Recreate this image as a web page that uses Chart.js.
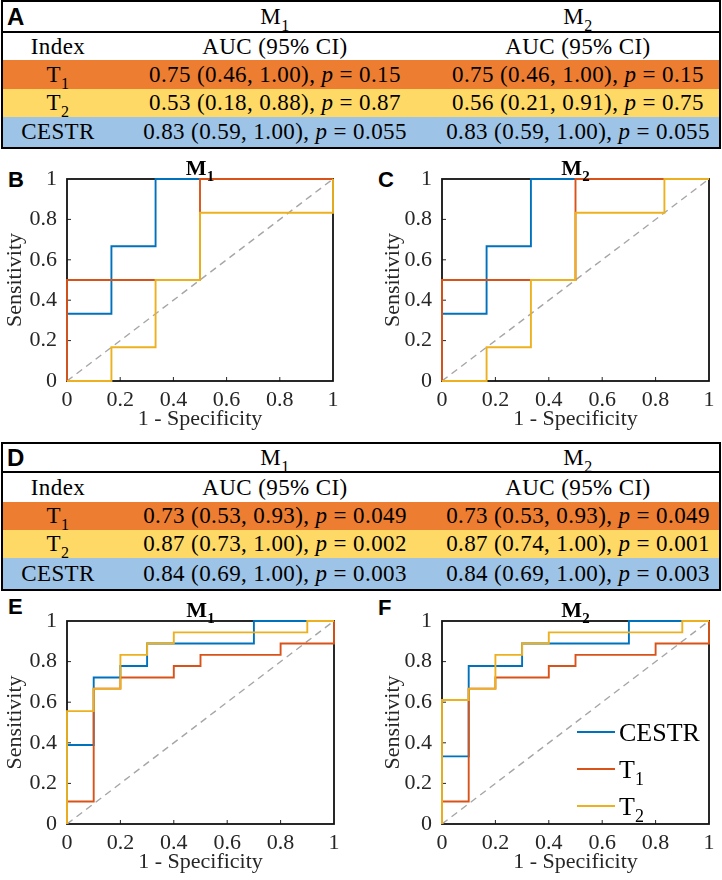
<!DOCTYPE html>
<html>
<head>
<meta charset="utf-8">
<script src="https://cdn.jsdelivr.net/npm/chart.js@4.4.1/dist/chart.umd.min.js"></script>
<style>
  html, body { margin: 0; padding: 0; background: #fff; }
  body { width: 722px; height: 880px; position: relative; overflow: hidden;
         font-family: 'Liberation Serif', 'Times New Roman', serif; }
  .tbl { position: absolute; left: 1px; width: 720px; box-sizing: border-box;
         border: 2px solid #000; }
  .row { display: flex; align-items: center; font-size: 23px; letter-spacing: 0.4px; color: #000; }
  .row.head { border-bottom: 2px solid #000; }
  .c1 { width: 110px; text-align: center; }
  .c2 { width: 324px; text-align: center; }
  .c3 { width: 282px; text-align: center; }
  .sub { font-size: 16px; position: relative; top: 7px; }
  .letter { position: absolute; font-family: 'Liberation Sans', Arial, sans-serif;
            font-weight: bold; line-height: 1; }
  canvas { position: absolute; }
</style>
</head>
<body>
<div class="tbl" id="tblA" style="top:0"></div>
<div class="tbl" id="tblD" style="top:442px"></div>

<div class="letter" style="left:7px;top:5px;font-size:24px">A</div>
<div class="letter" style="left:7px;top:446px;font-size:24px">D</div>
<div class="letter" style="left:8px;top:169px;font-size:22px">B</div>
<div class="letter" style="left:378px;top:169px;font-size:22px">C</div>
<div class="letter" style="left:8px;top:596px;font-size:22px">E</div>
<div class="letter" style="left:378px;top:597px;font-size:22px">F</div>

<canvas id="rocB" width="361" height="282" style="left:0;top:150px"></canvas>
<canvas id="rocC" width="344" height="282" style="left:378px;top:150px"></canvas>
<canvas id="rocE" width="361" height="283" style="left:0;top:592px"></canvas>
<canvas id="rocF" width="344" height="283" style="left:378px;top:592px"></canvas>

<script>
// series / row names
const seriesNames = ['CESTR', 'T1', 'T2'];
const rowNames = ['T1', 'T2', 'CESTR'];
const modelNames = ['M1', 'M2'];
const xTickLabels = ['0', '0.2', '0.4', '0.6', '0.8', '1'];
const yTickLabels = ['0', '0.2', '0.4', '0.6', '0.8', '1'];

// table A (rows T1, T2, CESTR)
const aM1Auc = [0.75, 0.53, 0.83];
const aM1Lo = [0.46, 0.18, 0.59];
const aM1Hi = [1.00, 0.88, 1.00];
const aM1P = [0.15, 0.87, 0.055];
const aM2Auc = [0.75, 0.56, 0.83];
const aM2Lo = [0.46, 0.21, 0.59];
const aM2Hi = [1.00, 0.91, 1.00];
const aM2P = [0.15, 0.75, 0.055];

// table D
const dM1Auc = [0.73, 0.87, 0.84];
const dM1Lo = [0.53, 0.73, 0.69];
const dM1Hi = [0.93, 1.00, 1.00];
const dM1P = [0.049, 0.002, 0.003];
const dM2Auc = [0.73, 0.87, 0.84];
const dM2Lo = [0.53, 0.74, 0.69];
const dM2Hi = [0.93, 1.00, 1.00];
const dM2P = [0.049, 0.001, 0.003];

// ROC curves, x = 1 - specificity, y = sensitivity
// panel B (M1)
const bCestrX = [0, 0, 0.167, 0.167, 0.333, 0.333, 1];
const bCestrY = [0, 0.333, 0.333, 0.667, 0.667, 1, 1];
const bT1X = [0, 0, 0.5, 0.5, 1];
const bT1Y = [0, 0.5, 0.5, 1, 1];
const bT2X = [0, 0.167, 0.167, 0.333, 0.333, 0.5, 0.5, 1, 1];
const bT2Y = [0, 0, 0.167, 0.167, 0.5, 0.5, 0.833, 0.833, 1];
// panel C (M2)
const cCestrX = [0, 0, 0.167, 0.167, 0.333, 0.333, 1];
const cCestrY = [0, 0.333, 0.333, 0.667, 0.667, 1, 1];
const cT1X = [0, 0, 0.5, 0.5, 1];
const cT1Y = [0, 0.5, 0.5, 1, 1];
const cT2X = [0, 0.167, 0.167, 0.333, 0.333, 0.5, 0.5, 0.833, 0.833, 1];
const cT2Y = [0, 0, 0.167, 0.167, 0.5, 0.5, 0.833, 0.833, 1, 1];
// panel E (M1)
const eCestrX = [0, 0, 0.1, 0.1, 0.2, 0.2, 0.3, 0.3, 0.7, 0.7, 1];
const eCestrY = [0, 0.389, 0.389, 0.722, 0.722, 0.778, 0.778, 0.889, 0.889, 1, 1];
const eT1X = [0, 0, 0.1, 0.1, 0.2, 0.2, 0.4, 0.4, 0.5, 0.5, 0.8, 0.8, 1, 1];
const eT1Y = [0, 0.111, 0.111, 0.667, 0.667, 0.722, 0.722, 0.778, 0.778, 0.833, 0.833, 0.889, 0.889, 1];
const eT2X = [0, 0, 0.1, 0.1, 0.2, 0.2, 0.3, 0.3, 0.4, 0.4, 0.9, 0.9, 1];
const eT2Y = [0, 0.556, 0.556, 0.667, 0.667, 0.833, 0.833, 0.889, 0.889, 0.944, 0.944, 1, 1];
// panel F (M2)
const fCestrX = [0, 0, 0.1, 0.1, 0.3, 0.3, 0.7, 0.7, 1];
const fCestrY = [0, 0.333, 0.333, 0.778, 0.778, 0.889, 0.889, 1, 1];
const fT1X = [0, 0, 0.1, 0.1, 0.2, 0.2, 0.4, 0.4, 0.5, 0.5, 0.8, 0.8, 1, 1];
const fT1Y = [0, 0.111, 0.111, 0.667, 0.667, 0.722, 0.722, 0.778, 0.778, 0.833, 0.833, 0.889, 0.889, 1];
const fT2X = [0, 0, 0.1, 0.1, 0.2, 0.2, 0.3, 0.3, 0.4, 0.4, 0.9, 0.9, 1];
const fT2Y = [0, 0.611, 0.611, 0.667, 0.667, 0.833, 0.833, 0.889, 0.889, 0.944, 0.944, 1, 1];

const chanceX = [0, 1];
const chanceY = [0, 1];

// styles
const seriesColors = ['#0072BD', '#D95319', '#EDB120'];
const rowColors = ['#ED7D31', '#FFD966', '#9DC3E6'];
const serif = "'Liberation Serif', 'Times New Roman', serif";

// "T1" -> ["T", "1"]
function splitName(s) {
    const m = s.match(/^(.*?)(\d*)$/);
    return [m[1], m[2]];
}
function nameHtml(s) {
    const [a, b] = splitName(s);
    return b ? a + '<span class="sub">' + b + '</span>' : a;
}
function cellHtml(auc, lo, hi, p) {
    return auc.toFixed(2) + ' (' + lo.toFixed(2) + ', ' + hi.toFixed(2) + '), <i>p</i> = ' + p;
}

function buildTable(id, m1, m2, heights) {
    const el = document.getElementById(id);
    let html = '';
    html += '<div class="row head" style="height:' + heights[0] + 'px">' +
        '<div class="c1"></div><div class="c2">' + nameHtml(modelNames[0]) + '</div>' +
        '<div class="c3">' + nameHtml(modelNames[1]) + '</div></div>';
    html += '<div class="row" style="height:' + heights[1] + 'px">' +
        '<div class="c1">Index</div><div class="c2">AUC (95% CI)</div><div class="c3">AUC (95% CI)</div></div>';
    rowNames.forEach((r, i) => {
        html += '<div class="row" style="height:' + heights[i + 2] + 'px;background:' + rowColors[i] + '">' +
            '<div class="c1">' + nameHtml(r) + '</div>' +
            '<div class="c2">' + cellHtml(m1[0][i], m1[1][i], m1[2][i], m1[3][i]) + '</div>' +
            '<div class="c3">' + cellHtml(m2[0][i], m2[1][i], m2[2][i], m2[3][i]) + '</div></div>';
    });
    el.innerHTML = html;
}

buildTable('tblA', [aM1Auc, aM1Lo, aM1Hi, aM1P], [aM2Auc, aM2Lo, aM2Hi, aM2P], [29, 27, 29, 28, 30]);
buildTable('tblD', [dM1Auc, dM1Lo, dM1Hi, dM1P], [dM2Auc, dM2Lo, dM2Hi, dM2P], [27, 29, 28, 28, 31]);

// draw "M" + subscript "1" etc. centred (align 'center') or left
function drawName(ctx, s, x, y, size, bold, align) {
    const [a, b] = splitName(s);
    const w = bold ? 'bold ' : '';
    const subSize = Math.round(size * 0.68);
    ctx.font = w + size + 'px ' + serif;
    const wa = ctx.measureText(a).width;
    ctx.font = w + subSize + 'px ' + serif;
    const wb = b ? ctx.measureText(b).width : 0;
    let x0 = align === 'center' ? x - (wa + wb) / 2 : x;
    ctx.textAlign = 'left';
    ctx.textBaseline = 'alphabetic';
    ctx.font = w + size + 'px ' + serif;
    ctx.fillText(a, x0, y);
    if (b) {
        ctx.font = w + subSize + 'px ' + serif;
        ctx.fillText(b, x0 + wa, y + size * 0.25);
    }
}

const rocPlugin = {
    id: 'roc',
    beforeDatasetsDraw(chart) {
        const {ctx, chartArea: a, scales} = chart;
        ctx.save();
        ctx.strokeStyle = '#262626';
        ctx.lineWidth = 1;
        // inward ticks on left and bottom
        ctx.beginPath();
        [0.2, 0.4, 0.6, 0.8].forEach(v => {
            const px = scales.x.getPixelForValue(v);
            ctx.moveTo(px, a.bottom);
            ctx.lineTo(px, a.bottom - 4);
            const py = scales.y.getPixelForValue(v);
            ctx.moveTo(a.left, py);
            ctx.lineTo(a.left + 4, py);
        });
        ctx.stroke();
        ctx.strokeStyle = '#111';
        ctx.lineWidth = 1.8;
        ctx.strokeRect(a.left, a.top, a.right - a.left, a.bottom - a.top);
        ctx.restore();
    },
    afterDraw(chart, args, opts) {
        const {ctx, chartArea: a} = chart;
        ctx.save();
        ctx.fillStyle = '#000';
        drawName(ctx, opts.title, (a.left + a.right) / 2, a.top - 4, 22, true, 'center');
        if (opts.legend) {
            const x0 = a.right - 132;
            chart.data.datasets.forEach((ds, i) => {
                if (!ds.label) return;
                const y = a.bottom - 92 + i * 37;
                ctx.strokeStyle = ds.borderColor;
                ctx.lineWidth = 1.8;
                ctx.beginPath();
                ctx.moveTo(x0, y);
                ctx.lineTo(x0 + 38, y);
                ctx.stroke();
                ctx.fillStyle = '#000';
                drawName(ctx, ds.label, x0 + 42, y + 9, 26, false, 'left');
            });
        }
        ctx.restore();
    }
};

function pts(xs, ys) {
    return xs.map((x, i) => ({x: x, y: ys[i]}));
}

function makeRoc(id, curves, title, yWidth, padRight, legend) {
    const tickFont = {family: serif, size: 22};
    const datasets = curves.map((c, i) => ({
        label: seriesNames[i],
        data: pts(c[0], c[1]),
        borderColor: seriesColors[i],
        borderWidth: 1.9,
        order: 3 - i,
        clip: false
    }));
    datasets.push({
        label: '',
        data: pts(chanceX, chanceY),
        borderColor: '#A6A6A6',
        borderWidth: 1.4,
        borderDash: [7, 5],
        order: 10
    });
    return new Chart(document.getElementById(id), {
        type: 'scatter',
        data: {datasets: datasets},
        plugins: [rocPlugin],
        options: {
            responsive: false,
            animation: false,
            events: [],
            showLine: true,
            elements: {point: {radius: 0}, line: {tension: 0}},
            layout: {padding: {left: 0, top: 29, right: padRight, bottom: 0}},
            plugins: {
                legend: {display: false},
                tooltip: {enabled: false},
                roc: {title: title, legend: legend}
            },
            scales: {
                x: {
                    type: 'linear', min: 0, max: 1,
                    grid: {display: false, drawTicks: false, tickLength: 0},
                    border: {display: false},
                    ticks: {
                        stepSize: 0.2, padding: 6, color: '#262626', font: tickFont,
                        maxRotation: 0,
                        callback: (v, i) => xTickLabels[i]
                    },
                    title: {display: true, text: '1 - Specificity', color: '#262626', font: tickFont,
                            padding: {top: 0, bottom: 0}},
                    afterFit: s => { s.height = 51; }
                },
                y: {
                    min: 0, max: 1,
                    grid: {display: false, drawTicks: false, tickLength: 0},
                    border: {display: false},
                    ticks: {
                        stepSize: 0.2, padding: 10, color: '#262626', font: tickFont,
                        callback: (v, i) => yTickLabels[i]
                    },
                    title: {display: true, text: 'Sensitivity', color: '#262626', font: tickFont,
                            padding: {top: 2, bottom: 0}},
                    afterFit: s => { s.width = yWidth; }
                }
            }
        }
    });
}

makeRoc('rocB', [[bCestrX, bCestrY], [bT1X, bT1Y], [bT2X, bT2Y]], modelNames[0], 67, 28, false);
makeRoc('rocC', [[cCestrX, cCestrY], [cT1X, cT1Y], [cT2X, cT2Y]], modelNames[1], 64, 13, false);
makeRoc('rocE', [[eCestrX, eCestrY], [eT1X, eT1Y], [eT2X, eT2Y]], modelNames[0], 67, 27, false);
makeRoc('rocF', [[fCestrX, fCestrY], [fT1X, fT1Y], [fT2X, fT2Y]], modelNames[1], 64, 13, true);
</script>
</body>
</html>
